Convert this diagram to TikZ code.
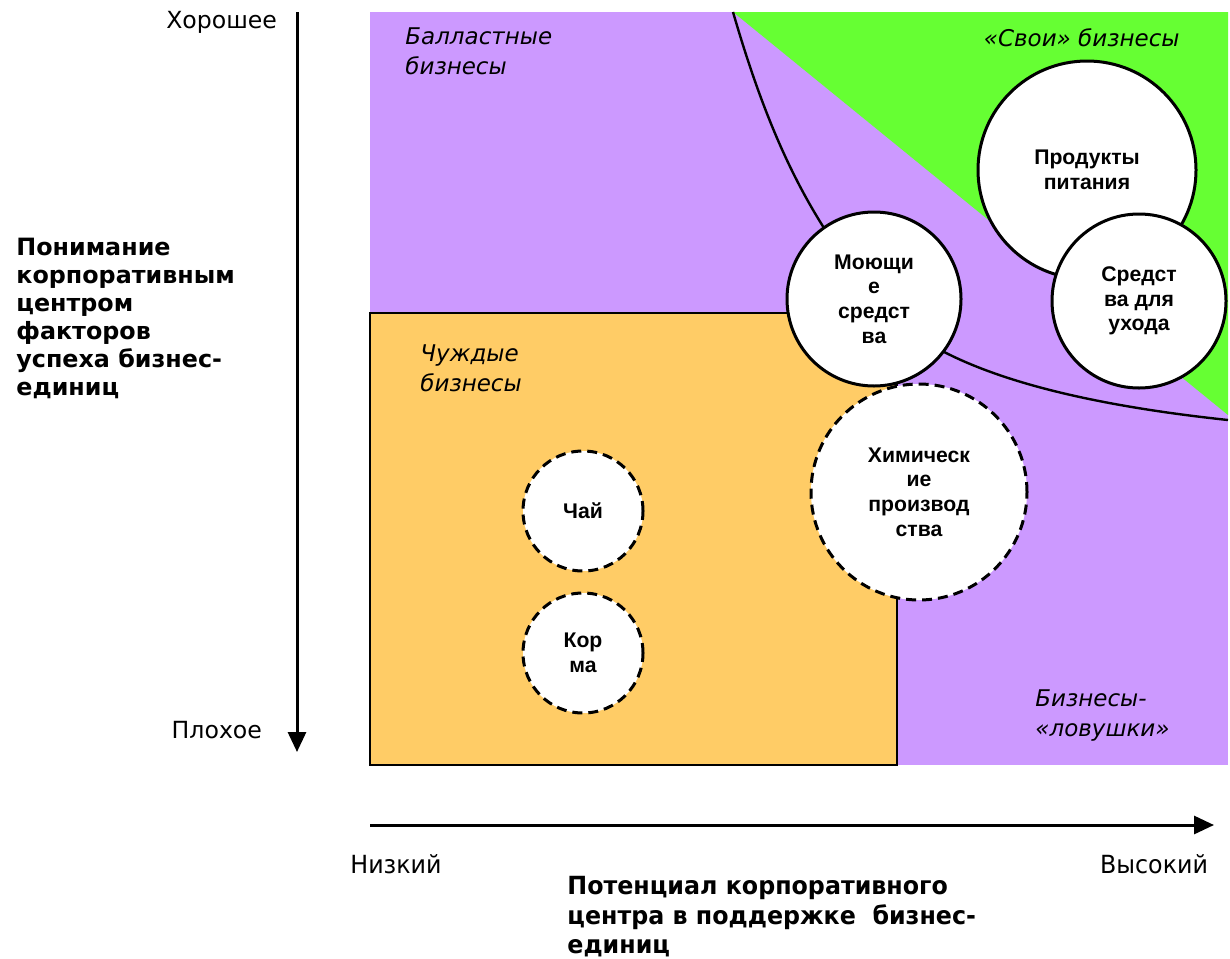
\documentclass[tikz,border=0pt]{standalone}
\usepackage{fontspec}
\setmainfont{DejaVu Sans}
\newfontfamily\arialfont{Liberation Sans}
\newfontfamily\narrowfont[FakeStretch=0.95]{DejaVu Sans}
\usetikzlibrary{arrows.meta}

\definecolor{ballast}{HTML}{CC99FF}
\definecolor{own}{HTML}{66FF33}
\definecolor{alien}{HTML}{FFCC66}

\begin{document}
\begin{tikzpicture}[x=0.5pt,y=-0.5pt,
	unit/.style={circle,draw,fill=white,line width=1.5pt,inner sep=0pt,align=center,
		font=\arialfont\bfseries\fontsize{10.6}{12.3}\selectfont},
	weak/.style={unit,dash pattern=on 5pt off 3pt},
	zone/.style={inner sep=0pt,align=left,font=\itshape\fontsize{11.5}{15}\selectfont},
	axis/.style={line width=1.5pt,-{Triangle[length=10pt,width=9pt]}}]
	\useasboundingbox (0,0) rectangle (1230,958);

	\fill[ballast] (370,12) rectangle (1228,765);        % whole field
	\fill[own] (733,12) -- (1228,12) -- (1228,415) -- cycle;
	\draw[line width=1.2pt] (733,12) .. controls (770,140) and (810,220) .. (874,296)
		.. controls (920,360) and (1040,400) .. (1228,420);
	\draw[fill=alien,line width=1pt] (370,313) rectangle (897,765);

	% business units
	\node[unit,minimum size=109pt] (food) at (1087,170) {Продукты\\питания};
	\node[unit,minimum size=87pt] (care) at (1139,301) {Средст\\ва для\\ухода};
	\node[unit,minimum size=87pt] (wash) at (874,299) {Моющи\\е\\средст\\ва};
	\node[weak,minimum size=108pt] (chem) at (919,492) {Химическ\\ие\\производ\\ства};
	\node[weak,minimum size=60pt] (tea) at (583,511) {Чай};
	\node[weak,minimum size=60pt] (feed) at (583,653) {Кор\\ма};

	% zones
	\node[zone,anchor=north west] (ballastlbl) at (405,27) {Балластные\\бизнесы};
	\node[zone,anchor=east] (ownlbl) at (1180,38) {«Свои» бизнесы};
	\node[zone,anchor=north west] (alienlbl) at (420,344) {Чуждые\\бизнесы};
	\node[zone,anchor=north west] (traplbl) at (1035,689) {Бизнесы-\\«ловушки»};

	% axes
	\coordinate (good) at (297,12);
	\coordinate (bad) at (297,752);
	\coordinate (low) at (370,825);
	\coordinate (high) at (1214,825);
	\draw[axis] (good) -- (bad);
	\draw[axis] (low) -- (high);

	\node[anchor=east,font=\fontsize{11.8}{13}\selectfont] (goodlbl) at (284,22) {Хорошее};
	\node[anchor=east,font=\fontsize{11.8}{13}\selectfont] (badlbl) at (269,730) {Плохое};
	\node[anchor=north west,inner sep=0pt,align=left,font=\bfseries\fontsize{11.9}{14}\selectfont]
		(ylbl) at (16,238) {Понимание\\корпоративным\\центром\\факторов\\успеха бизнес-\\единиц};

	\node[font=\narrowfont\fontsize{12.5}{14}\selectfont] (lowlbl) at (396,864) {Низкий};
	\node[anchor=east,font=\narrowfont\fontsize{12.5}{14}\selectfont] (highlbl) at (1215,864) {Высокий};
	\node[anchor=north west,inner sep=0pt,align=left,font=\narrowfont\bfseries\fontsize{12.5}{14.75}\selectfont]
		(xlbl) at (567,876) {Потенциал корпоративного\\центра в поддержке\ \ бизнес-\\единиц};
\end{tikzpicture}
\end{document}
